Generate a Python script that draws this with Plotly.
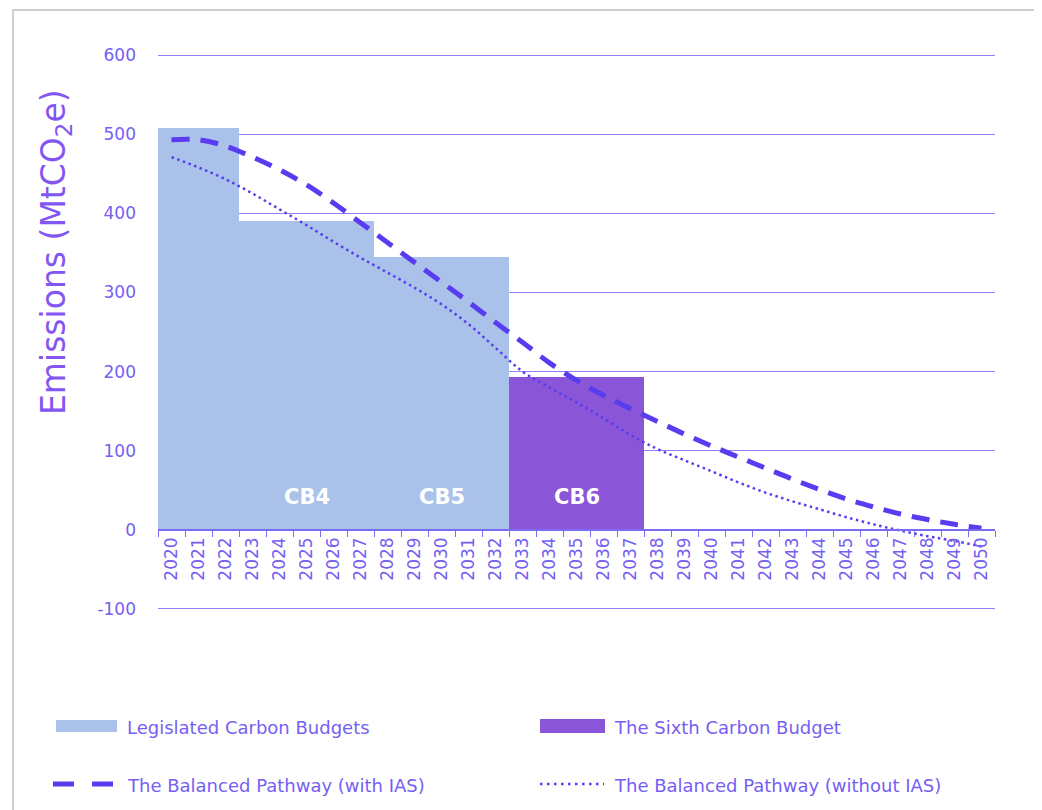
import plotly.graph_objects as go

# ---------------- data ----------------
years = [str(y) for y in range(2020, 2051)]

legislated_budgets = [508, 508, 508,
                      390, 390, 390, 390, 390,
                      345, 345, 345, 345, 345] + [None] * 18
sixth_budget = [None] * 13 + [193, 193, 193, 193, 193] + [None] * 13

balanced_with_ias = [493, 493, 485, 471, 455, 436, 413, 388, 363, 338, 313,
                     288, 262, 237, 211, 189, 170, 153, 137, 121, 106,
                     92, 78, 64, 51, 39, 29, 20, 13, 7, 2]
balanced_without_ias = [471, 458, 443, 425, 405, 385, 364, 344, 325, 306, 285,
                        260, 230, 200, 180, 161, 141, 120, 102, 88, 74,
                        60, 47, 36, 26, 16, 7, -1, -8, -14, -21]

budget_labels = ["CB4", "CB5", "CB6"]
budget_label_index = [5, 10, 15]   # category positions (2025, 2030, 2035)

y_ticks = [-100, 0, 100, 200, 300, 400, 500, 600]
y_tick_text = ["-100", "0", "100", "200", "300", "400", "500", "600"]

# ---------------- style ----------------
FONT = "DejaVu Sans"
TEXT = "#7560f2"
LINE = "#5a3cf0"
GRID = "#9080ff"
BLUE = "#aac2ea"
PURPLE = "#8a55d6"

OFF = 8                      # page body margin
W, H = 1042 - OFF, 810 - OFF
# plot area in page coordinates: x 158..995, y 52..612
ML, MR = 158 - OFF, 1042 - 995
MT, MB = 52 - OFF, 810 - 612
PW, PH = W - ML - MR, H - MT - MB
YR = [-103.8, 603.8]


def px(x):
    return (x - OFF - ML) / PW


def py(y):
    return (H - MB - (y - OFF)) / PH


fig = go.Figure()

fig.add_trace(go.Bar(x=years, y=legislated_budgets, name="Legislated Carbon Budgets",
                     marker=dict(color=BLUE, line=dict(width=0)), showlegend=False))
fig.add_trace(go.Bar(x=years, y=sixth_budget, name="The Sixth Carbon Budget",
                     marker=dict(color=PURPLE, line=dict(width=0)), showlegend=False))
fig.add_trace(go.Scatter(x=years, y=balanced_with_ias, mode="lines",
                         name="The Balanced Pathway (with IAS)",
                         line=dict(color=LINE, width=5, dash="18px,11px", shape="spline",
                                   smoothing=1),
                         showlegend=False))
fig.add_trace(go.Scatter(x=years, y=balanced_without_ias, mode="lines",
                         name="The Balanced Pathway (without IAS)",
                         line=dict(color=LINE, width=2.5, dash="2.5px,3.5px", shape="spline",
                                   smoothing=1),
                         showlegend=False))

for lab, idx in zip(budget_labels, budget_label_index):
    fig.add_annotation(x=idx, y=42, text="<b>" + lab + "</b>", showarrow=False,
                       xanchor="center", yanchor="middle",
                       font=dict(family=FONT, size=21, color="white"))

zero_pos = (0 - YR[0]) / (YR[1] - YR[0])

fig.update_layout(
    width=W, height=H,
    margin=dict(l=ML, r=MR, t=MT, b=MB, autoexpand=False),
    paper_bgcolor="white", plot_bgcolor="white",
    barmode="overlay", bargap=0,
    font=dict(family=FONT, color=TEXT),
    xaxis=dict(type="category", anchor="free", position=zero_pos,
               showline=True, linecolor="#7b6cf5", linewidth=1.5,
               ticks="outside", ticklen=6, tickcolor="#7b6cf5", tickwidth=1.2,
               tickson="boundaries", tickangle=-90,
               tickfont=dict(family=FONT, size=17, color=TEXT),
               showgrid=False, range=[-0.5, 30.5], fixedrange=True),
    yaxis=dict(range=YR, tickvals=y_ticks, ticktext=y_tick_text,
               showgrid=True, gridcolor=GRID, gridwidth=1.3,
               zeroline=False, showline=False, ticks="",
               ticklabelstandoff=21,
               tickfont=dict(family=FONT, size=17, color=TEXT)),
)

# y-axis title
fig.add_annotation(xref="paper", yref="paper", x=px(56), y=py(252),
                   text="Emissions (MtCO<sub>2</sub>e)", textangle=-90, showarrow=False,
                   xanchor="center", yanchor="middle",
                   font=dict(family=FONT, size=33, color="#8256f2"))

# frame
fig.add_shape(type="rect", xref="paper", yref="paper",
              x0=px(13), x1=px(1035), y0=py(812), y1=py(10),
              line=dict(color="#cfcfcf", width=2), fillcolor="rgba(0,0,0,0)", layer="below")

# legend (drawn manually)
fig.add_shape(type="rect", xref="paper", yref="paper",
              x0=px(56), x1=px(117), y0=py(732), y1=py(720),
              fillcolor=BLUE, line=dict(width=0))
fig.add_shape(type="rect", xref="paper", yref="paper",
              x0=px(540), x1=px(605), y0=py(733), y1=py(719),
              fillcolor=PURPLE, line=dict(width=0))
fig.add_shape(type="line", xref="paper", yref="paper",
              x0=px(53), x1=px(113), y0=py(784), y1=py(784),
              line=dict(color=LINE, width=5, dash="21px,18px"))
fig.add_shape(type="line", xref="paper", yref="paper",
              x0=px(540), x1=px(604), y0=py(784), y1=py(784),
              line=dict(color=LINE, width=2.5, dash="2.5px,4.5px"))

legend_items = [
    ("Legislated Carbon Budgets", 125, 727),
    ("The Sixth Carbon Budget", 612, 727),
    ("The Balanced Pathway (with IAS)", 125, 785),
    ("The Balanced Pathway (without IAS)", 612, 785),
]
for txt, lx, ly in legend_items:
    fig.add_annotation(xref="paper", yref="paper", x=px(lx), y=py(ly), text=txt,
                       showarrow=False, xanchor="left", yanchor="middle",
                       font=dict(family=FONT, size=18, color=TEXT))

fig.write_html("out.html")
